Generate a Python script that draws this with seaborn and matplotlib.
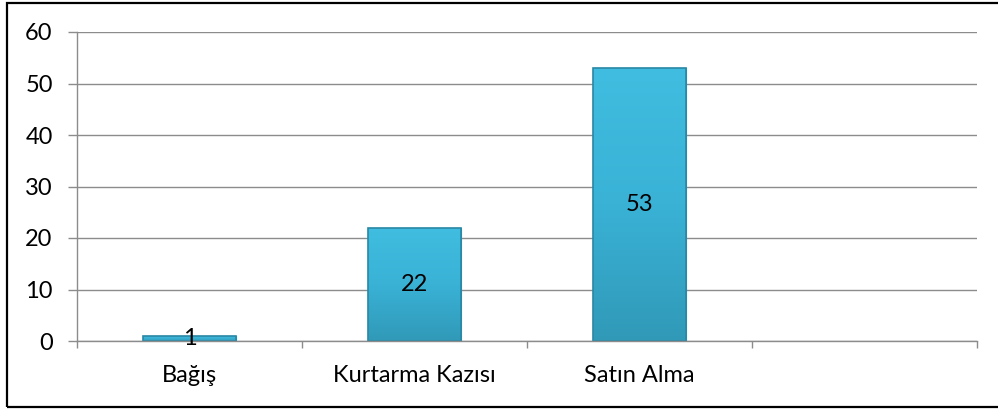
import matplotlib
matplotlib.use("Agg")
import matplotlib.pyplot as plt
import matplotlib.patches as mpatches
import numpy as np
import pandas as pd
import seaborn as sns
from matplotlib.colors import LinearSegmentedColormap

categories = ["Bağış", "Kurtarma Kazısı", "Satın Alma"]
values = [1, 22, 53]
yticks = [0, 10, 20, 30, 40, 50, 60]

sns.set_style("white")
plt.rcParams['font.family'] = ['Lato', 'DejaVu Sans']

df = pd.DataFrame({"cat": categories, "val": values})

fig = plt.figure(figsize=(9.98, 4.09), dpi=100)
ax = fig.add_axes([77/998, 1-341/409, 900/998, (341-32)/409])

bar_color = "#3cb8dc"
sns.barplot(data=df, x="cat", y="val", ax=ax, color=bar_color, width=0.41,
            edgecolor="#2b8fae", linewidth=0.8, saturation=1, zorder=3)

ax.set_xlim(-0.5, 3.5)
ax.set_ylim(0, 60)
ax.set_yticks(yticks)
ax.set_xlabel("")
ax.set_ylabel("")

# gradient overlay on bars
grad = np.linspace(0, 1, 256).reshape(-1, 1)
cmap = LinearSegmentedColormap.from_list("b", ["#3199b8", "#39b2d6", "#40bde0"])
for p in ax.patches:
    x0, y0 = p.get_x(), p.get_y()
    w, h = p.get_width(), p.get_height()
    im = ax.imshow(grad, extent=[x0, x0 + w, y0, y0 + h], origin="lower",
                   cmap=cmap, aspect="auto", zorder=3.5)
    im.set_clip_path(p)
    edge = mpatches.Rectangle((x0, y0), w, h, fill=False, edgecolor="#2a88a6",
                              linewidth=1.2, zorder=4)
    ax.add_patch(edge)
ax.set_xlim(-0.5, 3.5)
ax.set_ylim(0, 60)

ax.bar_label(ax.containers[0], labels=[str(v) for v in values], label_type="center",
             fontsize=17, color="black", zorder=6)
for t in ax.texts:
    t.set_zorder(6)

ax.yaxis.grid(True, color="#8c8c8c", linewidth=1.0, zorder=0)
ax.xaxis.grid(False)
for s in ["top", "right"]:
    ax.spines[s].set_visible(False)
ax.spines["left"].set_color("#8c8c8c")
ax.spines["bottom"].set_color("#8c8c8c")
ax.spines["left"].set_linewidth(1.0)
ax.spines["bottom"].set_linewidth(1.0)
ax.spines["bottom"].set_zorder(5)

ax.tick_params(axis="y", which="major", length=6.5, width=1.0, color="#8c8c8c",
               pad=11, labelsize=17, left=True, labelcolor="black")
ax.set_xticks([0, 1, 2])
ax.set_xticklabels(categories)
ax.set_xticks([-0.5, 0.5, 1.5, 2.5, 3.5], minor=True)
ax.tick_params(axis="x", which="major", length=0, pad=17, labelsize=17, labelcolor="black")
ax.tick_params(axis="x", which="minor", length=5, width=1.0, color="#8c8c8c", bottom=True)

border = mpatches.Rectangle((7/998, 2/409), 1.0, 1 - 5/409, transform=fig.transFigure,
                            fill=False, edgecolor="black", linewidth=1.6, clip_on=False)
fig.patches.append(border)

fig.savefig("out.png", dpi=100)
